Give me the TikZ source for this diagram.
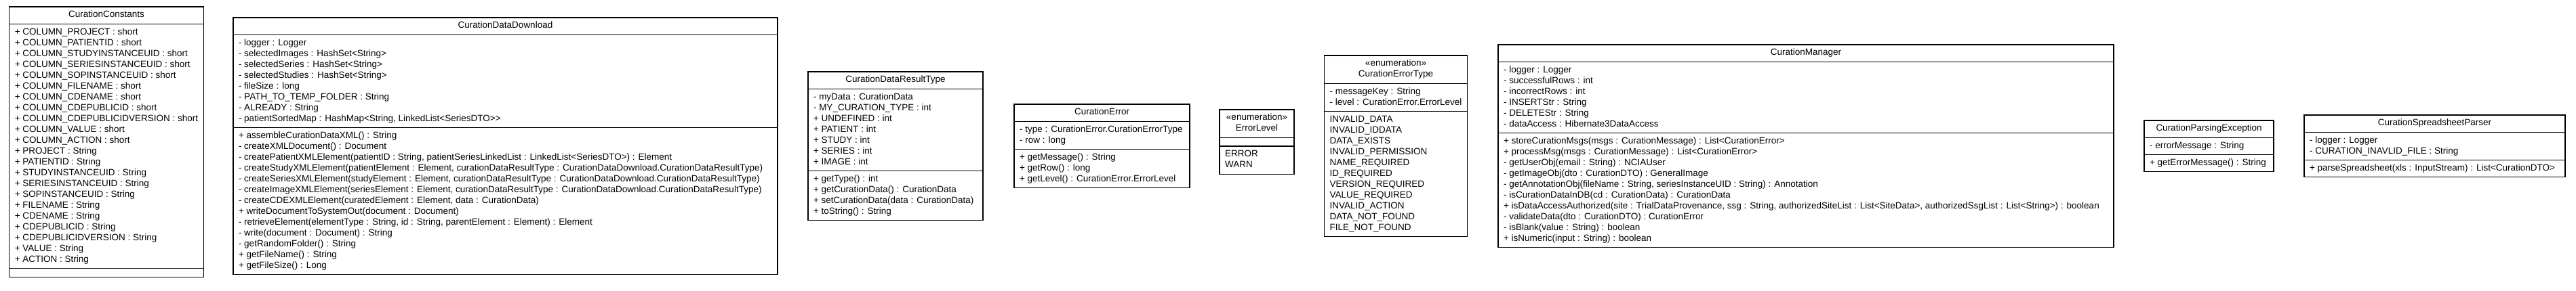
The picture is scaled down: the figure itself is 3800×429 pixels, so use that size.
\documentclass[tikz,border=0pt]{standalone}
\usepackage{fontspec}
\setmainfont{Liberation Sans}
\usetikzlibrary{shapes.multipart}
\newcommand{\umlhead}[1]{\begin{tabular}{@{}c@{}}#1\end{tabular}}
\newcommand{\umlrows}[1]{\begin{tabular}{@{}l@{}}#1\end{tabular}}

\begin{document}
\begin{tikzpicture}[x=1pt, y=-1pt]
	\tikzstyle{umlclass} = [rectangle split, rectangle split parts=3, rectangle split part align={center,left,left}, draw=black, line width=1.2pt, inner xsep=8pt, inner ysep=4pt, outer sep=0pt, font=\fontsize{13.5}{16}\selectfont, anchor=north];

	\useasboundingbox (0,0) rectangle (3800,429);

	\node[umlclass, minimum width=282pt] at (157, 10) (constants) {\umlhead{CurationConstants}
		\nodepart{two}\umlrows{+ COLUMN\_PROJECT : short\\ + COLUMN\_PATIENTID : short\\ + COLUMN\_STUDYINSTANCEUID : short\\ + COLUMN\_SERIESINSTANCEUID : short\\ + COLUMN\_SOPINSTANCEUID : short\\ + COLUMN\_FILENAME : short\\ + COLUMN\_CDENAME : short\\ + COLUMN\_CDEPUBLICID : short\\ + COLUMN\_CDEPUBLICIDVERSION : short\\ + COLUMN\_VALUE : short\\ + COLUMN\_ACTION : short\\ + PROJECT : String\\ + PATIENTID : String\\ + STUDYINSTANCEUID : String\\ + SERIESINSTANCEUID : String\\ + SOPINSTANCEUID : String\\ + FILENAME : String\\ + CDENAME : String\\ + CDEPUBLICID : String\\ + CDEPUBLICIDVERSION : String\\ + VALUE : String\\ + ACTION : String}
		\nodepart{three}\umlrows{}};

	\node[umlclass, minimum width=803pt] at (745.5, 26) (download) {\umlhead{CurationDataDownload}
		\nodepart{two}\umlrows{- logger : Logger\\ - selectedImages : HashSet<String>\\ - selectedSeries : HashSet<String>\\ - selectedStudies : HashSet<String>\\ - fileSize : long\\ - PATH\_TO\_TEMP\_FOLDER : String\\ - ALREADY : String\\ - patientSortedMap : HashMap<String, LinkedList<SeriesDTO>{}>}
		\nodepart{three}\umlrows{+ assembleCurationDataXML() : String\\ - createXMLDocument() : Document\\ - createPatientXMLElement(patientID : String, patientSeriesLinkedList : LinkedList<SeriesDTO>) : Element\\ - createStudyXMLElement(patientElement : Element, curationDataResultType : CurationDataDownload.CurationDataResultType)\\ - createSeriesXMLElement(studyElement : Element, curationDataResultType : CurationDataDownload.CurationDataResultType)\\ - createImageXMLElement(seriesElement : Element, curationDataResultType : CurationDataDownload.CurationDataResultType)\\ - createCDEXMLElement(curatedElement : Element, data : CurationData)\\ + writeDocumentToSystemOut(document : Document)\\ - retrieveElement(elementType : String, id : String, parentElement : Element) : Element\\ - write(document : Document) : String\\ - getRandomFolder() : String\\ + getFileName() : String\\ + getFileSize() : Long}};

	\node[umlclass, minimum width=258pt] at (1321, 106) (resulttype) {\umlhead{CurationDataResultType}
		\nodepart{two}\umlrows{- myData : CurationData\\ - MY\_CURATION\_TYPE : int\\ + UNDEFINED : int\\ + PATIENT : int\\ + STUDY : int\\ + SERIES : int\\ + IMAGE : int}
		\nodepart{three}\umlrows{+ getType() : int\\ + getCurationData() : CurationData\\ + setCurationData(data : CurationData)\\ + toString() : String}};

	\node[umlclass, minimum width=259pt] at (1625.5, 154) (error) {\umlhead{CurationError}
		\nodepart{two}\umlrows{- type : CurationError.CurationErrorType\\ - row : long}
		\nodepart{three}\umlrows{+ getMessage() : String\\ + getRow() : long\\ + getLevel() : CurationError.ErrorLevel}};

	\node[umlclass, minimum width=110pt] at (1854, 162) (errorlevel) {\umlhead{«enumeration»\\ ErrorLevel}
		\nodepart{two}\umlrows{}
		\nodepart{three}\umlrows{ERROR\\ WARN}};

	\node[umlclass, minimum width=210pt] at (2059, 82) (errortype) {\umlhead{«enumeration»\\ CurationErrorType}
		\nodepart{two}\umlrows{- messageKey : String\\ - level : CurationError.ErrorLevel}
		\nodepart{three}\umlrows{INVALID\_DATA\\ INVALID\_IDDATA\\ DATA\_EXISTS\\ INVALID\_PERMISSION\\ NAME\_REQUIRED\\ ID\_REQUIRED\\ VERSION\_REQUIRED\\ VALUE\_REQUIRED\\ INVALID\_ACTION\\ DATA\_NOT\_FOUND\\ FILE\_NOT\_FOUND}};

	\node[umlclass, minimum width=908pt] at (2664, 66) (manager) {\umlhead{CurationManager}
		\nodepart{two}\umlrows{- logger : Logger\\ - successfulRows : int\\ - incorrectRows : int\\ - INSERTStr : String\\ - DELETEStr : String\\ - dataAccess : Hibernate3DataAccess}
		\nodepart{three}\umlrows{+ storeCurationMsgs(msgs : CurationMessage) : List<CurationError>\\ + processMsg(msgs : CurationMessage) : List<CurationError>\\ - getUserObj(email : String) : NCIAUser\\ - getImageObj(dto : CurationDTO) : GeneralImage\\ - getAnnotationObj(fileName : String, seriesInstanceUID : String) : Annotation\\ - isCurationDataInDB(cd : CurationData) : CurationData\\ + isDataAccessAuthorized(site : TrialDataProvenance, ssg : String, authorizedSiteList : List<SiteData>, authorizedSsgList : List<String>) : boolean\\ - validateData(dto : CurationDTO) : CurationError\\ - isBlank(value : String) : boolean\\ + isNumeric(input : String) : boolean}};

	\node[umlclass, minimum width=191pt] at (3258.5, 178) (parsingexc) {\umlhead{CurationParsingException}
		\nodepart{two}\umlrows{- errorMessage : String}
		\nodepart{three}\umlrows{+ getErrorMessage() : String}};

	\node[umlclass, minimum width=385pt] at (3591.5, 170) (parser) {\umlhead{CurationSpreadsheetParser}
		\nodepart{two}\umlrows{- logger : Logger\\ - CURATION\_INAVLID\_FILE : String}
		\nodepart{three}\umlrows{+ parseSpreadsheet(xls : InputStream) : List<CurationDTO>}};

\end{tikzpicture}
\end{document}
